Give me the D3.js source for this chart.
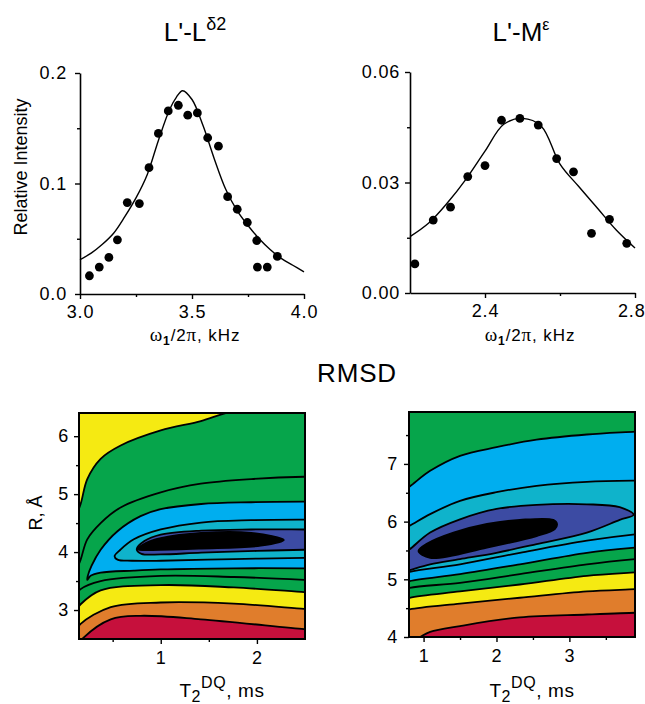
<!DOCTYPE html>
<html>
<head>
<meta charset="utf-8">
<script src="https://cdn.jsdelivr.net/npm/d3@7"></script>
<style>
  body { margin: 0; background: #fff; }
  svg text { font-family: "Liberation Sans", Arial, Helvetica, sans-serif; fill: #000; }
  .serif { font-family: "Liberation Serif", "Times New Roman", serif; }
</style>
</head>
<body>
<svg id="fig" width="645" height="704"></svg>
<script>
// ---------------- L'-Lδ2 build-up curve ----------------
const ldFreq = [3.042, 3.086, 3.129, 3.167, 3.211, 3.265, 3.308, 3.350, 3.394, 3.439, 3.481,
                3.524, 3.570, 3.618, 3.659, 3.702, 3.747, 3.789, 3.792, 3.836, 3.881];
const ldInt  = [0.0165, 0.0244, 0.0331, 0.049, 0.0827, 0.0818, 0.1143, 0.1453, 0.1657, 0.1708, 0.1618,
                0.1639, 0.1414, 0.1338, 0.0881, 0.0767, 0.0647, 0.0484, 0.0244, 0.0244, 0.034];
const ldFitFreq = [3.00, 3.05, 3.10, 3.15, 3.20, 3.25, 3.30, 3.35, 3.40, 3.43, 3.458, 3.50, 3.55,
                   3.60, 3.65, 3.70, 3.75, 3.80, 3.85, 3.90, 3.95, 4.00];
const ldFitInt  = [0.031, 0.037, 0.045, 0.055, 0.070, 0.087, 0.108, 0.139, 0.167, 0.178, 0.184, 0.176, 0.152,
                   0.122, 0.095, 0.076, 0.062, 0.050, 0.040, 0.032, 0.026, 0.020];

// ---------------- L'-Mε build-up curve ----------------
const meFreq = [2.213, 2.262, 2.308, 2.354, 2.400, 2.444, 2.493, 2.542, 2.591, 2.636, 2.684, 2.732, 2.778];
const meInt  = [0.0079, 0.0198, 0.0233, 0.0316, 0.0346, 0.0469, 0.0474, 0.0456, 0.0365, 0.0329, 0.0162, 0.0200, 0.0135];
const meFitFreq = [2.20, 2.25, 2.30, 2.35, 2.40, 2.45, 2.50, 2.55, 2.60, 2.65, 2.70, 2.75, 2.80];
const meFitInt  = [0.0153, 0.019, 0.0245, 0.031, 0.0385, 0.0458, 0.0474, 0.0453, 0.035, 0.0289, 0.023, 0.0171, 0.0122];

// ---------------- tick values ----------------
const ldXTicks = [3.0, 3.5, 4.0],   ldXMinor = [3.25, 3.75];
const ldYTicks = [0.0, 0.1, 0.2],   ldYMinor = [0.05, 0.15];
const meXTicks = [2.4, 2.8],        meXMinor = [2.6];
const meYTicks = [0.00, 0.03, 0.06], meYMinor = [0.015, 0.045];
const blXTicks = [1, 2],            blXMinor = [0.5, 1.5];
const blYTicks = [3, 4, 5, 6],      blYMinor = [3.5, 4.5, 5.5];
const brXTicks = [1, 2, 3],         brXMinor = [1.5, 2.5, 3.5];
const brYTicks = [4, 5, 6, 7],      brYMinor = [4.5, 5.5, 6.5, 7.5];

// ---------------- RMSD map, L'-Lδ2 : contour lines as [T2DQ (ms), R (Å)] ----------------
const blYellowEdge = [[0.10,4.55],[0.167,4.83],[0.236,5.26],[0.375,5.61],[0.583,5.84],[1.0,6.10],[1.417,6.26],[1.64,6.38],[1.85,6.47]];
const blUpperGreen = [[0.10,3.6],[0.167,3.87],[0.236,4.22],[0.375,4.50],[0.583,4.77],[1.0,5.03],[1.417,5.18],[1.94,5.26],[2.49,5.30],[2.6,5.30]];
const blSkyLoop  = [[2.6,4.87],[2.49,4.87],[1.94,4.86],[1.42,4.83],[1.0,4.74],[0.79,4.62],[0.55,4.36],[0.375,4.04],[0.28,3.76],
                    [0.24,3.58],[0.236,3.52],[0.27,3.59],[0.375,3.645],[0.72,3.68],[1.0,3.70],[1.76,3.72],[2.49,3.72],[2.6,3.72]];
const blTealLoop = [[2.6,4.56],[2.49,4.56],[1.94,4.55],[1.42,4.51],[1.0,4.39],[0.72,4.22],[0.58,4.04],[0.52,3.93],
                    [0.55,3.87],[0.7,3.85],[1.0,3.85],[1.76,3.88],[2.49,3.90],[2.6,3.90]];
const blNavyLoop = [[2.6,4.39],[2.49,4.39],[1.94,4.39],[1.42,4.37],[1.0,4.30],[0.83,4.19],[0.75,4.05],
                    [0.80,3.97],[1.0,3.96],[1.42,3.99],[2.0,4.02],[2.49,4.04],[2.6,4.04]];
const blCore = [[0.76,4.05],[0.85,4.16],[1.0,4.24],[1.42,4.33],[1.94,4.33],[2.28,4.21],[2.04,4.11],[1.42,4.06],[1.0,4.04]];
const blLowerGreen = [[0.10,3.2],[0.167,3.36],[0.375,3.50],[1.0,3.59],[1.76,3.57],[2.49,3.52],[2.6,3.51]];
const blYellowLow  = [[0.10,2.95],[0.167,3.10],[0.375,3.34],[1.0,3.43],[1.76,3.39],[2.49,3.31],[2.6,3.30]];
const blOrange     = [[0.10,2.6],[0.167,2.76],[0.48,3.05],[1.0,3.13],[1.76,3.11],[2.49,3.02],[2.6,3.01]];
const blRed        = [[0.12,2.35],[0.195,2.52],[0.48,2.84],[0.79,2.90],[1.417,2.84],[2.49,2.67],[2.6,2.66]];

// ---------------- RMSD map, L'-Mε ----------------
const brSkyTop   = [[0.7,6.52],[0.81,6.61],[1.09,6.88],[1.50,7.14],[2.0,7.29],[2.55,7.42],[3.24,7.51],[3.9,7.56],[4.0,7.57]];
const brTealTop  = [[0.7,5.86],[0.81,5.93],[1.09,6.13],[1.50,6.36],[2.0,6.51],[2.55,6.62],[3.24,6.69],[3.9,6.71],[4.0,6.71]];
const brNavyLoop = [[0.7,5.42],[0.81,5.52],[1.09,5.81],[1.50,6.04],[2.0,6.22],[2.55,6.29],[3.24,6.30],[3.69,6.25],[3.88,6.12],
                    [3.69,6.03],[3.24,5.81],[2.55,5.61],[2.0,5.46],[1.50,5.35],[1.09,5.26],[0.81,5.16],[0.7,5.12]];
const brCore = [[0.93,5.49],[1.09,5.37],[1.87,5.55],[2.55,5.75],[2.80,5.87],[2.83,5.96],[2.78,6.03],[2.32,6.03],[1.87,5.96],[1.41,5.81],[1.05,5.62]];
const brSkyLow   = [[0.7,5.08],[0.81,5.13],[1.50,5.26],[2.32,5.46],[3.24,5.67],[3.9,5.78],[4.0,5.79]];
const brGreenLow = [[0.7,4.92],[0.81,4.97],[1.50,5.09],[2.32,5.26],[3.24,5.46],[3.9,5.55],[4.0,5.56]];
const brGreenMid = [[0.7,4.80],[0.81,4.85],[1.50,4.94],[2.32,5.09],[3.24,5.26],[3.9,5.35],[4.0,5.36]];
const brYellow   = [[0.7,4.63],[0.81,4.68],[1.50,4.79],[2.32,4.91],[3.24,5.06],[3.9,5.12],[4.0,5.13]];
const brOrange   = [[0.7,4.43],[0.81,4.48],[1.50,4.58],[2.32,4.68],[3.24,4.79],[3.9,4.83],[4.0,4.84]];
const brRed      = [[0.85,3.93],[0.95,4.0],[1.09,4.09],[1.50,4.19],[2.32,4.34],[3.24,4.39],[3.9,4.42],[4.0,4.42]];

// band colours, low RMSD to high
const palette = {
  core: "#000000", navy: "#3c4ba3", teal: "#0fb3cb", sky: "#00aeef",
  green: "#06a54b", yellow: "#f5ea12", orange: "#e07d2c", red: "#c6103c"
};

const TICK_FONT = 18;
const svg = d3.select("#fig");
svg.append("rect").attr("width", 645).attr("height", 704).attr("fill", "#fff");

// ---------- helpers ----------
function styleAxis(sel) {
  sel.selectAll("path.domain").attr("stroke", "#000").attr("stroke-width", 1.6);
  sel.selectAll(".tick line").attr("stroke", "#000").attr("stroke-width", 1.4);
  sel.selectAll(".tick text").attr("font-size", TICK_FONT).attr("letter-spacing", 0.8)
     .attr("font-family", '"Liberation Sans", Arial, Helvetica, sans-serif').attr("fill", "#000");
}

function drawAxes(g, x, y, cfg) {
  const y0 = y.range()[0], x0 = x.range()[0];
  const ax = g.append("g").attr("transform", `translate(0,${y0})`)
    .call(d3.axisBottom(x).tickValues(cfg.xTicks).tickFormat(cfg.xFmt)
      .tickSize(5).tickSizeOuter(0).tickPadding(cfg.xPad));
  styleAxis(ax);
  const axm = g.append("g").attr("transform", `translate(0,${y0})`)
    .call(d3.axisBottom(x).tickValues(cfg.xMinor).tickFormat("").tickSize(3).tickSizeOuter(0));
  axm.select("path.domain").remove();
  styleAxis(axm);

  const ay = g.append("g").attr("transform", `translate(${x0},0)`)
    .call(d3.axisLeft(y).tickValues(cfg.yTicks).tickFormat(cfg.yFmt)
      .tickSize(5).tickSizeOuter(0).tickPadding(cfg.yPad));
  styleAxis(ay);
  const aym = g.append("g").attr("transform", `translate(${x0},0)`)
    .call(d3.axisLeft(y).tickValues(cfg.yMinor).tickFormat("").tickSize(3).tickSizeOuter(0));
  aym.select("path.domain").remove();
  styleAxis(aym);
  return ax;
}

function smoothPath(pts, x, y) {
  return d3.line().x(d => x(d[0])).y(d => y(d[1])).curve(d3.curveCatmullRom.alpha(0.5))(pts);
}
function closedPath(pts, x, y) {
  return d3.line().x(d => x(d[0])).y(d => y(d[1])).curve(d3.curveCatmullRomClosed.alpha(0.5))(pts);
}
// region below a contour line, running off the bottom of the frame
function areaBelow(pts, x, y) {
  const [xa, xb] = x.range(), yb = y.range()[0];
  const f = pts[0], l = pts[pts.length - 1];
  return smoothPath(pts, x, y) +
    `L${xb + 40},${y(l[1])}L${xb + 40},${yb + 40}L${xa - 40},${yb + 40}L${xa - 40},${y(f[1])}Z`;
}
// region above-left of a contour line, running off the top-left corner
function areaTopLeft(pts, x, y) {
  const xa = x.range()[0], yt = y.range()[1];
  const f = pts[0], l = pts[pts.length - 1];
  return smoothPath(pts, x, y) +
    `L${x(l[0])},${yt - 40}L${xa - 40},${yt - 40}L${xa - 40},${y(f[1])}Z`;
}

function xLabelOmega(g, cx, by) {
  const t = g.append("text").attr("x", cx).attr("y", by).attr("text-anchor", "middle")
    .attr("font-size", 17).attr("letter-spacing", 0.9);
  t.append("tspan").attr("class", "serif").attr("font-size", 19).text("ω");
  t.append("tspan").attr("font-size", 12).attr("font-weight", "bold").attr("dy", 4).text("1");
  t.append("tspan").attr("dy", -4).text("/2");
  t.append("tspan").attr("class", "serif").attr("font-size", 19).text("π");
  t.append("tspan").text(", kHz");
}
function xLabelT2(g, cx, by) {
  const t = g.append("text").attr("x", cx).attr("y", by).attr("text-anchor", "middle")
    .attr("font-size", 19).attr("letter-spacing", 0.6);
  t.append("tspan").text("T");
  t.append("tspan").attr("font-size", 16).attr("dy", 5).text("2");
  t.append("tspan").attr("font-size", 16).attr("dy", -14).text("DQ");
  t.append("tspan").attr("dy", 9).text(", ms");
}

// ---------- top left: L'-Lδ2 ----------
{
  const x = d3.scaleLinear().domain([3.0, 4.0]).range([80, 304]);
  const y = d3.scaleLinear().domain([0, 0.2]).range([294, 73]);
  const g = svg.append("g");
  drawAxes(g, x, y, { xTicks: ldXTicks, xMinor: ldXMinor, xFmt: d3.format(".1f"), xPad: 6,
                      yTicks: ldYTicks, yMinor: ldYMinor, yFmt: d3.format(".1f"), yPad: 8 });
  const fit = ldFitFreq.map((f, i) => [f, ldFitInt[i]]);
  g.append("path").attr("d", smoothPath(fit, x, y)).attr("fill", "none").attr("stroke", "#000").attr("stroke-width", 1.4);
  g.selectAll("circle.pt").data(ldFreq).join("circle").attr("class", "pt")
    .attr("cx", d => x(d)).attr("cy", (d, i) => y(ldInt[i])).attr("r", 4.4).attr("fill", "#000");

  const title = g.append("text").attr("x", 195).attr("y", 41).attr("text-anchor", "middle").attr("font-size", 26);
  title.append("tspan").text("L'-L");
  title.append("tspan").attr("font-size", 18).attr("dy", -11).text("δ2");

  g.append("text").attr("transform", "translate(27,167) rotate(-90)").attr("text-anchor", "middle")
    .attr("font-size", 18).text("Relative Intensity");
  xLabelOmega(g, 195, 341);
}

// ---------- top right: L'-Mε ----------
{
  const x = d3.scaleLinear().domain([2.2, 2.8]).range([410, 635]);
  const y = d3.scaleLinear().domain([0, 0.06]).range([293, 72]);
  const g = svg.append("g");
  const ax = drawAxes(g, x, y, { xTicks: meXTicks, xMinor: meXMinor, xFmt: d3.format(".1f"), xPad: 6,
                      yTicks: meYTicks, yMinor: meYMinor, yFmt: d3.format(".2f"), yPad: 5 });
  // keep the last tick label inside the page
  ax.selectAll(".tick text").filter(d => d === 2.8).attr("text-anchor", "end").attr("x", 10);
  const fit = meFitFreq.map((f, i) => [f, meFitInt[i]]);
  g.append("path").attr("d", smoothPath(fit, x, y)).attr("fill", "none").attr("stroke", "#000").attr("stroke-width", 1.4);
  g.selectAll("circle.pt").data(meFreq).join("circle").attr("class", "pt")
    .attr("cx", d => x(d)).attr("cy", (d, i) => y(meInt[i])).attr("r", 4.4).attr("fill", "#000");

  const title = g.append("text").attr("x", 521).attr("y", 41).attr("text-anchor", "middle").attr("font-size", 26);
  title.append("tspan").text("L'-M");
  title.append("tspan").attr("font-size", 16).attr("dy", -11).text("ε");
  xLabelOmega(g, 530, 341);
}

svg.append("text").attr("x", 357).attr("y", 382).attr("text-anchor", "middle").attr("font-size", 26)
  .attr("letter-spacing", 0.8).text("RMSD");

// ---------- contour map builder ----------
function contourPanel(id, x, y, layers, lines, closedLines) {
  const g = svg.append("g");
  const [xa, xb] = x.range(), [yb, yt] = y.range();
  g.append("clipPath").attr("id", id).append("rect")
    .attr("x", xa).attr("y", yt).attr("width", xb - xa).attr("height", yb - yt);
  const body = g.append("g").attr("clip-path", `url(#${id})`);
  body.append("rect").attr("x", xa).attr("y", yt).attr("width", xb - xa).attr("height", yb - yt)
    .attr("fill", palette.green);
  layers.forEach(L => body.append("path").attr("d", L.d).attr("fill", L.fill));
  lines.forEach(pts => body.append("path").attr("d", smoothPath(pts, x, y))
    .attr("fill", "none").attr("stroke", "#000").attr("stroke-width", 1.8));
  closedLines.forEach(d => body.append("path").attr("d", d)
    .attr("fill", "none").attr("stroke", "#000").attr("stroke-width", 1.8));
  g.append("rect").attr("x", xa).attr("y", yt).attr("width", xb - xa).attr("height", yb - yt)
    .attr("fill", "none").attr("stroke", "#000").attr("stroke-width", 2);
  return g;
}

// ---------- bottom left: RMSD for L'-Lδ2 ----------
{
  const x = d3.scaleLinear().domain([0.15, 2.5]).range([79, 305]);
  const y = d3.scaleLinear().domain([2.5, 6.4]).range([639, 413]);
  const loop = pts => smoothPath(pts, x, y) + "Z";
  const layers = [
    { d: areaTopLeft(blYellowEdge, x, y), fill: palette.yellow },
    { d: areaBelow(blYellowLow, x, y), fill: palette.yellow },
    { d: areaBelow(blOrange, x, y), fill: palette.orange },
    { d: areaBelow(blRed, x, y), fill: palette.red },
    { d: loop(blSkyLoop), fill: palette.sky },
    { d: loop(blTealLoop), fill: palette.teal },
    { d: loop(blNavyLoop), fill: palette.navy },
    { d: closedPath(blCore, x, y), fill: palette.core }
  ];
  const lines = [blYellowEdge, blUpperGreen, blSkyLoop, blTealLoop, blNavyLoop,
                 blLowerGreen, blYellowLow, blOrange, blRed];
  const g = contourPanel("clipBL", x, y, layers, lines, [closedPath(blCore, x, y)]);
  drawAxes(g, x, y, { xTicks: blXTicks, xMinor: blXMinor, xFmt: d3.format("d"), xPad: 7,
                      yTicks: blYTicks, yMinor: blYMinor, yFmt: d3.format("d"), yPad: 5 });
  g.selectAll("path.domain").remove();
  g.append("text").attr("transform", "translate(42,513) rotate(-90)").attr("text-anchor", "middle")
    .attr("font-size", 18).text("R, Å");
  xLabelT2(g, 222, 697);
}

// ---------- bottom right: RMSD for L'-Mε ----------
{
  const x = d3.scaleLinear().domain([0.8, 3.9]).range([409, 635]);
  const y = d3.scaleLinear().domain([4.0, 7.9]).range([637, 412]);
  const layers = [
    { d: areaBelow(brSkyTop, x, y), fill: palette.sky },
    { d: areaBelow(brTealTop, x, y), fill: palette.teal },
    { d: areaBelow(brSkyLow, x, y), fill: palette.sky },
    { d: areaBelow(brGreenLow, x, y), fill: palette.green },
    { d: areaBelow(brYellow, x, y), fill: palette.yellow },
    { d: areaBelow(brOrange, x, y), fill: palette.orange },
    { d: areaBelow(brRed, x, y), fill: palette.red },
    { d: smoothPath(brNavyLoop, x, y) + "Z", fill: palette.navy },
    { d: closedPath(brCore, x, y), fill: palette.core }
  ];
  const lines = [brSkyTop, brTealTop, brNavyLoop, brSkyLow, brGreenLow, brGreenMid, brYellow, brOrange, brRed];
  const g = contourPanel("clipBR", x, y, layers, lines, [closedPath(brCore, x, y)]);
  drawAxes(g, x, y, { xTicks: brXTicks, xMinor: brXMinor, xFmt: d3.format("d"), xPad: 7,
                      yTicks: brYTicks, yMinor: brYMinor, yFmt: d3.format("d"), yPad: 6 });
  g.selectAll("path.domain").remove();
  xLabelT2(g, 532, 697);
}
</script>
</body>
</html>
